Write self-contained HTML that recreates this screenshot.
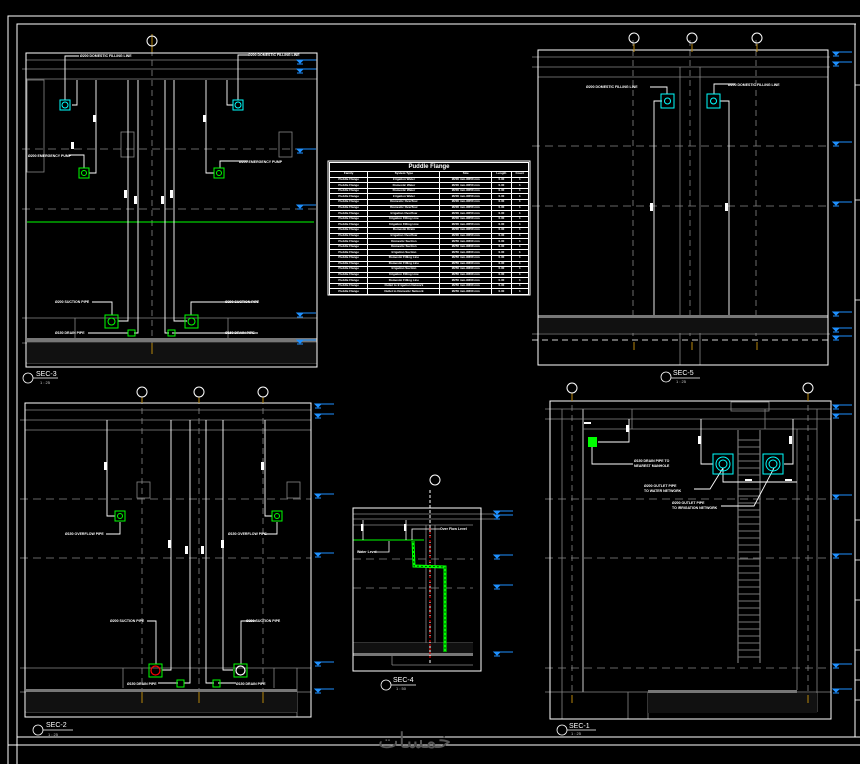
<!DOCTYPE html>
<html><head><meta charset="utf-8"><style>
html,body{margin:0;padding:0;background:#000;width:860px;height:764px;overflow:hidden;font-family:"Liberation Sans",sans-serif}
svg{position:absolute;left:0;top:0}
table{position:absolute;left:329px;top:162px;width:200px;border-collapse:collapse;color:#fff;font-size:3px;font-weight:bold;line-height:3.8px}
td{border:0.6px solid #fff;text-align:center;padding:0;height:4.6px;white-space:nowrap;overflow:hidden}
.t{font-size:6px;height:8px;line-height:8px}
</style></head><body>
<svg width="860" height="764" viewBox="0 0 860 764" font-family="Liberation Sans, sans-serif">
<defs>
<g id="m" stroke="#1e90ff" stroke-width="1" fill="#1e90ff"><line x1="0" y1="0" x2="16" y2="0"/><path d="M-3 0 L3 0 L0 3Z"/><line x1="-3" y1="4" x2="3" y2="4"/></g>
</defs>
<g fill="none" stroke="#fff" stroke-width="1">
<polyline points="8,764 8,16 860,16"/>
<polyline points="17,764 17,24 856,24"/>
<line x1="8" y1="745" x2="860" y2="745"/>
<line x1="17" y1="737" x2="860" y2="737"/>
<line x1="855" y1="24" x2="855" y2="737"/>
</g>
<g stroke="#fff" stroke-width="0.8" fill="none">
<line x1="855" y1="85" x2="860" y2="85"/><line x1="855" y1="200" x2="860" y2="200"/><line x1="855" y1="300" x2="860" y2="300"/><line x1="855" y1="520" x2="860" y2="520"/><line x1="855" y1="560" x2="860" y2="560"/><line x1="855" y1="600" x2="860" y2="600"/><line x1="855" y1="650" x2="860" y2="650"/><line x1="855" y1="680" x2="860" y2="680"/><line x1="855" y1="700" x2="860" y2="700"/>
</g>

<!-- SEC-3 -->
<g stroke="#888" stroke-width="0.8" fill="none">
<line x1="26" y1="60" x2="317" y2="60"/>
<line x1="22" y1="69" x2="317" y2="69"/>
<line x1="26" y1="79" x2="317" y2="79"/>
<line x1="22" y1="149" x2="317" y2="149" stroke-dasharray="8,5"/>
<line x1="22" y1="209" x2="317" y2="209" stroke-dasharray="8,5"/>
<line x1="22" y1="318" x2="317" y2="318"/>
<line x1="22" y1="343" x2="317" y2="343"/>
<line x1="26" y1="363" x2="317" y2="363"/>
<line x1="152" y1="40" x2="152" y2="355" stroke-dasharray="6,4"/>
<rect x="27" y="80" width="17" height="92"/>
<rect x="121" y="132" width="13" height="25"/><rect x="279" y="132" width="13" height="25"/>
<line x1="75" y1="318" x2="75" y2="338"/><line x1="228" y1="318" x2="228" y2="338"/>
</g>
<rect x="27" y="338" width="290" height="4" fill="#777"/>
<rect x="27" y="343" width="290" height="20" fill="#111"/>
<line x1="152" y1="34" x2="152" y2="52" stroke="#b8860b"/>
<line x1="152" y1="343" x2="152" y2="354" stroke="#b8860b"/>
<line x1="27" y1="222" x2="314" y2="222" stroke="#0f0" stroke-width="1"/>
<rect x="26" y="53" width="291" height="314" fill="none" stroke="#fff"/>
<g fill="none" stroke="#fff" stroke-width="0.9">
<polyline points="79,56 65,56 65,100"/><polyline points="77,80 77,105 72,105"/>
<polyline points="96,80 96,173 89,173"/><polyline points="128,80 128,321 118,321"/>
<polyline points="138,80 138,333 134,333"/><polyline points="165,80 165,333 169,333"/>
<polyline points="174,80 174,321 187,321"/><polyline points="206,80 206,173 214,173"/>
<polyline points="227,80 227,105 233,105"/><polyline points="248,55 238,55 238,100"/>
<polyline points="69,155 84,155 84,168"/><polyline points="248,161 220,161 220,168"/>
<polyline points="92,302 112,302 112,315"/><polyline points="258,302 191,302 191,315"/>
<polyline points="88,333 128,333"/><polyline points="172,333 258,333"/>
</g>
<g fill="#fff"><rect x="93" y="115" width="3" height="7"/><rect x="203" y="115" width="3" height="7"/><rect x="124" y="190" width="3" height="8"/><rect x="134" y="196" width="3" height="8"/><rect x="161" y="196" width="3" height="8"/><rect x="170" y="190" width="3" height="8"/><rect x="71" y="142" width="3" height="7"/></g>
<g fill="#fff" font-size="3.5" font-weight="bold">
<text x="80" y="57">Ø200 DOMESTIC FILLING LINE</text><text x="248" y="56">Ø200 DOMESTIC FILLING LINE</text>
<text x="28" y="157">Ø200 EMERGENCY PUMP</text><text x="239" y="163">Ø200 EMERGENCY PUMP</text>
<text x="55" y="303">Ø200 SUCTION PIPE</text><text x="225" y="303">Ø200 SUCTION PIPE</text>
<text x="55" y="334">Ø150 DRAIN PIPE</text><text x="225" y="334">Ø150 DRAIN PIPE</text>
</g>
<g fill="none" stroke="#0ff" stroke-width="1"><rect x="60" y="100" width="10" height="10"/><circle cx="65" cy="105" r="3"/><rect x="233" y="100" width="10" height="10"/><circle cx="238" cy="105" r="3"/></g>
<g fill="none" stroke="#0f0" stroke-width="1"><rect x="79" y="168" width="10" height="10"/><circle cx="84" cy="173" r="2.5"/><rect x="214" y="168" width="10" height="10"/><circle cx="219" cy="173" r="2.5"/>
<rect x="105" y="315" width="13" height="13"/><circle cx="111.5" cy="321.5" r="3.5"/><rect x="185" y="315" width="13" height="13"/><circle cx="191.5" cy="321.5" r="3.5"/>
<rect x="128" y="330" width="7" height="6"/><rect x="168" y="330" width="7" height="6"/></g>
<circle cx="152" cy="41" r="5" fill="none" stroke="#fff"/>

<rect x="328" y="161" width="202" height="134" fill="none" stroke="#fff"/>

<!-- SEC-5 -->
<g stroke="#888" stroke-width="0.8" fill="none">
<line x1="532" y1="57" x2="830" y2="57"/><line x1="532" y1="67" x2="830" y2="67"/><line x1="538" y1="77" x2="828" y2="77"/>
<line x1="532" y1="146" x2="830" y2="146" stroke-dasharray="8,5"/><line x1="532" y1="206" x2="830" y2="206" stroke-dasharray="8,5"/>
<line x1="633" y1="40" x2="633" y2="340" stroke-dasharray="6,4"/><line x1="690" y1="40" x2="690" y2="340" stroke-dasharray="6,4"/><line x1="756" y1="40" x2="756" y2="340" stroke-dasharray="6,4"/>
<line x1="680" y1="67" x2="680" y2="365"/><line x1="700" y1="67" x2="700" y2="365"/>
<line x1="532" y1="334" x2="830" y2="334"/>
<line x1="532" y1="340" x2="830" y2="340" stroke-dasharray="6,4" stroke-width="1.5"/>
</g>
<rect x="538" y="315" width="290" height="3" fill="#777"/>
<rect x="538" y="318" width="290" height="15" fill="#111"/>
<rect x="538" y="50" width="290" height="315" fill="none" stroke="#fff"/>
<g stroke="#b8860b"><line x1="634" y1="44" x2="634" y2="52"/><line x1="692" y1="44" x2="692" y2="52"/><line x1="757" y1="44" x2="757" y2="52"/><line x1="634" y1="342" x2="634" y2="350"/><line x1="692" y1="342" x2="692" y2="350"/><line x1="757" y1="342" x2="757" y2="350"/></g>
<g fill="none" stroke="#fff" stroke-width="0.9"><polyline points="650,87 667,87 667,94"/><polyline points="662,101 654,101 654,315"/><polyline points="714,94 714,84 735,84"/><polyline points="720,101 729,101 729,315"/></g>
<g fill="#fff"><rect x="650" y="203" width="3" height="8"/><rect x="725" y="203" width="3" height="8"/></g>
<g fill="#fff" font-size="3.5" font-weight="bold"><text x="586" y="88">Ø200 DOMESTIC FILLING LINE</text><text x="728" y="86">Ø200 DOMESTIC FILLING LINE</text></g>
<g fill="none" stroke="#0ff"><rect x="661" y="94" width="13" height="14"/><circle cx="667.5" cy="101" r="3"/><rect x="707" y="94" width="13" height="14"/><circle cx="713.5" cy="101" r="3"/></g>
<g fill="none" stroke="#fff"><circle cx="634" cy="38" r="5"/><circle cx="692" cy="38" r="5"/><circle cx="757" cy="38" r="5"/></g>

<!-- SEC-2 -->
<g stroke="#888" stroke-width="0.8" fill="none">
<line x1="25" y1="410" x2="311" y2="410"/><line x1="20" y1="420" x2="311" y2="420"/><line x1="25" y1="430" x2="311" y2="430"/>
<line x1="20" y1="499" x2="311" y2="499" stroke-dasharray="8,5"/><line x1="20" y1="558" x2="311" y2="558" stroke-dasharray="8,5"/>
<line x1="20" y1="668" x2="311" y2="668"/><line x1="20" y1="692" x2="311" y2="692"/><line x1="25" y1="712" x2="297" y2="712"/>
<line x1="142" y1="398" x2="142" y2="702" stroke-dasharray="6,4"/><line x1="199" y1="398" x2="199" y2="702" stroke-dasharray="6,4"/><line x1="263" y1="398" x2="263" y2="702" stroke-dasharray="6,4"/>
<rect x="137" y="482" width="13" height="16"/><rect x="287" y="482" width="13" height="16"/>
<line x1="123" y1="668" x2="123" y2="688"/><line x1="274" y1="668" x2="274" y2="688"/><line x1="297" y1="668" x2="297" y2="717"/>
</g>
<rect x="26" y="689" width="271" height="3" fill="#777"/>
<rect x="26" y="692" width="271" height="20" fill="#111"/>
<rect x="25" y="403" width="286" height="314" fill="none" stroke="#fff"/>
<g stroke="#b8860b"><line x1="142" y1="397" x2="142" y2="403"/><line x1="199" y1="397" x2="199" y2="403"/><line x1="263" y1="397" x2="263" y2="403"/><line x1="142" y1="692" x2="142" y2="703"/><line x1="199" y1="692" x2="199" y2="703"/><line x1="263" y1="692" x2="263" y2="703"/></g>
<g fill="none" stroke="#fff" stroke-width="0.9">
<polyline points="107,420 107,516 115,516"/><polyline points="120,522 120,534 106,534"/>
<polyline points="171,420 171,670 162,670"/><polyline points="190,420 190,683 184,683"/>
<polyline points="206,420 206,683 214,683"/><polyline points="223,420 223,670 233,670"/>
<polyline points="265,420 265,516 272,516"/><polyline points="277,522 277,534 264,534"/>
<polyline points="147,621 156,621 156,664"/><polyline points="256,621 241,621 241,664"/>
<polyline points="158,683 178,683"/><polyline points="218,683 236,683"/>
</g>
<g fill="#fff"><rect x="104" y="462" width="3" height="8"/><rect x="168" y="540" width="3" height="8"/><rect x="185" y="546" width="3" height="8"/><rect x="201" y="546" width="3" height="8"/><rect x="221" y="540" width="3" height="8"/><rect x="261" y="462" width="3" height="8"/></g>
<g fill="#fff" font-size="3.5" font-weight="bold">
<text x="65" y="535">Ø150 OVERFLOW PIPE</text><text x="228" y="535">Ø150 OVERFLOW PIPE</text>
<text x="110" y="622">Ø200 SUCTION PIPE</text><text x="246" y="622">Ø200 SUCTION PIPE</text>
<text x="127" y="685">Ø150 DRAIN PIPE</text><text x="236" y="685">Ø150 DRAIN PIPE</text>
</g>
<g fill="none" stroke="#0f0"><rect x="115" y="511" width="10" height="10"/><circle cx="120" cy="516" r="2.5"/><rect x="272" y="511" width="10" height="10"/><circle cx="277" cy="516" r="2.5"/>
<rect x="149" y="664" width="13" height="13"/><rect x="234" y="664" width="13" height="13"/>
<rect x="177" y="680" width="7" height="7"/><rect x="213" y="680" width="7" height="7"/></g>
<circle cx="155.5" cy="670.5" r="4.5" fill="none" stroke="#f00" stroke-width="1.2"/>
<circle cx="240.5" cy="670.5" r="4.5" fill="none" stroke="#fff" stroke-width="1.2"/>
<g fill="none" stroke="#fff"><circle cx="142" cy="392" r="5"/><circle cx="199" cy="392" r="5"/><circle cx="263" cy="392" r="5"/></g>

<!-- SEC-4 -->
<g stroke="#888" stroke-width="0.8" fill="none">
<line x1="353" y1="514" x2="495" y2="514"/><line x1="353" y1="519" x2="495" y2="519"/><line x1="353" y1="525" x2="473" y2="525"/>
<line x1="353" y1="559" x2="473" y2="559" stroke-dasharray="8,5"/><line x1="353" y1="588" x2="473" y2="588" stroke-dasharray="8,5"/>
<line x1="426" y1="525" x2="426" y2="643"/><line x1="435" y1="525" x2="435" y2="655"/>
<line x1="392" y1="643" x2="392" y2="665"/><line x1="353" y1="643" x2="473" y2="643"/><line x1="392" y1="665" x2="473" y2="665"/>
</g>
<rect x="353" y="643" width="120" height="12" fill="#111"/>
<rect x="353" y="653" width="120" height="3" fill="#777"/>
<line x1="353" y1="540" x2="424" y2="540" stroke="#0f0"/>
<line x1="430" y1="490" x2="430" y2="665" stroke="#fff" stroke-dasharray="3,2"/>
<line x1="430" y1="528" x2="430" y2="660" stroke="#f00" stroke-dasharray="2,2"/>
<polyline points="413,541 414,566 445,567 445,652" fill="none" stroke="#0f0" stroke-width="3"/>
<polyline points="413,541 414,566 445,567 445,652" fill="none" stroke="#000" stroke-width="0.7" stroke-dasharray="2,2"/>
<g fill="none" stroke="#fff" stroke-width="0.8"><polyline points="363,520 363,540"/><polyline points="406,520 406,540"/><polyline points="412,540 412,529 440,529"/><polyline points="375,552 389,552 389,541"/></g>
<g fill="#fff"><rect x="361" y="524" width="2.5" height="7"/><rect x="404" y="524" width="2.5" height="7"/></g>
<g fill="#fff" font-size="3.5" font-weight="bold"><text x="440" y="530">Over Flow Level</text><text x="357" y="553">Water Level</text></g>
<rect x="353" y="508" width="128" height="163" fill="none" stroke="#fff"/>
<circle cx="435" cy="480" r="5" fill="none" stroke="#fff"/>

<!-- SEC-1 -->
<g stroke="#888" stroke-width="0.8" fill="none">
<line x1="545" y1="409" x2="831" y2="409"/><line x1="545" y1="419" x2="831" y2="419"/>
<line x1="545" y1="499" x2="831" y2="499" stroke-dasharray="8,5"/><line x1="545" y1="558" x2="831" y2="558" stroke-dasharray="8,5"/>
<line x1="545" y1="668" x2="831" y2="668" stroke-dasharray="8,5"/><line x1="545" y1="692" x2="831" y2="692"/>
<line x1="562" y1="409" x2="562" y2="719"/><line x1="583" y1="409" x2="583" y2="692" stroke-width="1.5"/>
<line x1="797" y1="429" x2="797" y2="690"/><line x1="817" y1="409" x2="817" y2="712"/>
<line x1="583" y1="429" x2="817" y2="429"/>
<line x1="572" y1="395" x2="572" y2="702" stroke-dasharray="6,4"/><line x1="808" y1="395" x2="808" y2="702" stroke-dasharray="6,4"/>
<line x1="632" y1="409" x2="632" y2="429"/><line x1="765" y1="409" x2="765" y2="429"/>
<line x1="628" y1="692" x2="628" y2="719"/><line x1="648" y1="692" x2="648" y2="719"/>
<rect x="731" y="402" width="38" height="9"/>
</g>
<rect x="648" y="690" width="149" height="3" fill="#777"/>
<rect x="648" y="693" width="169" height="20" fill="#111"/>
<g stroke="#777" stroke-width="1.2" fill="none"><line x1="738" y1="430" x2="738" y2="663"/><line x1="760" y1="430" x2="760" y2="663"/></g>
<path d="M738 440H760M738 447H760M738 454H760M738 461H760M738 468H760M738 475H760M738 482H760M738 489H760M738 496H760M738 503H760M738 510H760M738 517H760M738 524H760M738 531H760M738 538H760M738 545H760M738 552H760M738 559H760M738 566H760M738 573H760M738 580H760M738 587H760M738 594H760M738 601H760M738 608H760M738 615H760M738 622H760M738 629H760M738 636H760M738 643H760M738 650H760M738 657H760" stroke="#777" stroke-width="1"/>
<rect x="550" y="401" width="281" height="318" fill="none" stroke="#fff"/>
<g stroke="#b8860b"><line x1="572" y1="393" x2="572" y2="401"/><line x1="808" y1="393" x2="808" y2="401"/><line x1="572" y1="695" x2="572" y2="703"/><line x1="808" y1="695" x2="808" y2="703"/></g>
<g fill="none" stroke="#fff" stroke-width="0.9">
<polyline points="598,442 629,442 629,419"/><polyline points="592,447 592,464 633,464"/>
<polyline points="701,419 701,464 713,464"/><polyline points="793,419 793,464 784,464"/>
<polyline points="723,468 723,482 797,482"/><polyline points="694,489 710,489 723,468"/><polyline points="721,506 754,506 774,468"/>
</g>
<g fill="#fff"><rect x="626" y="425" width="3" height="7"/><rect x="698" y="436" width="3" height="8"/><rect x="789" y="436" width="3" height="8"/><rect x="745" y="479" width="7" height="2"/><rect x="785" y="479" width="7" height="2"/><rect x="584" y="422" width="7" height="2"/></g>
<g fill="#fff" font-size="3.5" font-weight="bold">
<text x="634" y="462">Ø150 DRAIN PIPE TO</text><text x="634" y="467">NEAREST MANHOLE</text>
<text x="644" y="487">Ø200 OUTLET PIPE</text><text x="644" y="492">TO WATER NETWORK</text>
<text x="672" y="504">Ø200 OUTLET PIPE</text><text x="672" y="509">TO IRRIGATION NETWORK</text>
</g>
<rect x="588" y="437" width="9" height="10" fill="#0f0"/>
<g fill="none" stroke="#0ff" stroke-width="1"><rect x="713" y="454" width="20" height="20"/><circle cx="723" cy="464" r="7"/><circle cx="723" cy="464" r="4"/><rect x="763" y="454" width="20" height="20"/><circle cx="773" cy="464" r="7"/><circle cx="773" cy="464" r="4"/></g>
<g fill="none" stroke="#fff"><circle cx="572" cy="388" r="5"/><circle cx="808" cy="388" r="5"/></g>

<!-- level markers -->
<use href="#m" x="300" y="60"/><use href="#m" x="300" y="69"/><use href="#m" x="300" y="149"/><use href="#m" x="300" y="205"/><use href="#m" x="300" y="313"/><use href="#m" x="300" y="340"/>
<use href="#m" x="836" y="52"/><use href="#m" x="836" y="62"/><use href="#m" x="836" y="142"/><use href="#m" x="836" y="202"/><use href="#m" x="836" y="312"/><use href="#m" x="836" y="328"/><use href="#m" x="836" y="336"/>
<use href="#m" x="318" y="404"/><use href="#m" x="318" y="414"/><use href="#m" x="318" y="494"/><use href="#m" x="318" y="553"/><use href="#m" x="318" y="662"/><use href="#m" x="318" y="689"/>
<use href="#m" x="497" y="511"/><use href="#m" x="497" y="515"/><use href="#m" x="497" y="555"/><use href="#m" x="497" y="585"/><use href="#m" x="497" y="652"/>
<use href="#m" x="836" y="405"/><use href="#m" x="836" y="414"/><use href="#m" x="836" y="495"/><use href="#m" x="836" y="554"/><use href="#m" x="836" y="664"/><use href="#m" x="836" y="689"/>

<g fill="none" stroke="#fff" stroke-width="0.8"><circle cx="28" cy="378" r="5"/><line x1="33" y1="378" x2="58" y2="378"/>
<circle cx="666" cy="377" r="5"/><line x1="671" y1="378" x2="700" y2="378"/>
<circle cx="38" cy="730" r="5"/><line x1="43" y1="730" x2="73" y2="730"/>
<circle cx="386" cy="685" r="5"/><line x1="391" y1="685" x2="416" y2="685"/>
<circle cx="562" cy="730" r="5"/><line x1="567" y1="730" x2="596" y2="730"/></g>
<g fill="#fff" font-size="7"><text x="36" y="376">SEC-3</text><text x="673" y="375">SEC-5</text><text x="46" y="727">SEC-2</text><text x="393" y="682">SEC-4</text><text x="569" y="728">SEC-1</text></g>
<g fill="#ccc" font-size="4"><text x="40" y="384">1 : 25</text><text x="676" y="383">1 : 25</text><text x="48" y="736">1 : 25</text><text x="396" y="690">1 : 50</text><text x="571" y="735">1 : 25</text></g>
<text x="378" y="748" fill="#555" font-size="22" font-family="Noto Sans CJK SC, sans-serif">خمسات</text>
</svg>
<table>
<tr><td class="t" colspan="5">Puddle Flange</td></tr>
<tr><td>Family</td><td>System Type</td><td>Size</td><td>Length</td><td>Count</td></tr>
<tr><td>Puddle Flange</td><td>Irrigation Water</td><td>Ø200 mm-Ø250 mm</td><td>0.30</td><td>1</td></tr>
<tr><td>Puddle Flange</td><td>Domestic Water</td><td>Ø200 mm-Ø250 mm</td><td>0.30</td><td>1</td></tr>
<tr><td>Puddle Flange</td><td>Domestic Water</td><td>Ø200 mm-Ø250 mm</td><td>0.30</td><td>1</td></tr>
<tr><td>Puddle Flange</td><td>Irrigation Water</td><td>Ø200 mm-Ø250 mm</td><td>0.30</td><td>1</td></tr>
<tr><td>Puddle Flange</td><td>Domestic Overflow</td><td>Ø200 mm-Ø250 mm</td><td>0.30</td><td>1</td></tr>
<tr><td>Puddle Flange</td><td>Domestic Overflow</td><td>Ø200 mm-Ø250 mm</td><td>0.30</td><td>1</td></tr>
<tr><td>Puddle Flange</td><td>Irrigation Overflow</td><td>Ø200 mm-Ø250 mm</td><td>0.30</td><td>1</td></tr>
<tr><td>Puddle Flange</td><td>Irrigation Filling Line</td><td>Ø200 mm-Ø250 mm</td><td>0.30</td><td>1</td></tr>
<tr><td>Puddle Flange</td><td>Irrigation Filling Line</td><td>Ø200 mm-Ø250 mm</td><td>0.30</td><td>1</td></tr>
<tr><td>Puddle Flange</td><td>Domestic Drain</td><td>Ø200 mm-Ø250 mm</td><td>0.30</td><td>1</td></tr>
<tr><td>Puddle Flange</td><td>Irrigation Overflow</td><td>Ø200 mm-Ø250 mm</td><td>0.30</td><td>1</td></tr>
<tr><td>Puddle Flange</td><td>Domestic Suction</td><td>Ø250 mm-Ø300 mm</td><td>0.30</td><td>1</td></tr>
<tr><td>Puddle Flange</td><td>Domestic Suction</td><td>Ø250 mm-Ø300 mm</td><td>0.30</td><td>1</td></tr>
<tr><td>Puddle Flange</td><td>Irrigation Suction</td><td>Ø250 mm-Ø300 mm</td><td>0.30</td><td>1</td></tr>
<tr><td>Puddle Flange</td><td>Domestic Filling Line</td><td>Ø250 mm-Ø300 mm</td><td>0.30</td><td>1</td></tr>
<tr><td>Puddle Flange</td><td>Domestic Filling Line</td><td>Ø250 mm-Ø300 mm</td><td>0.30</td><td>1</td></tr>
<tr><td>Puddle Flange</td><td>Irrigation Suction</td><td>Ø250 mm-Ø300 mm</td><td>0.30</td><td>1</td></tr>
<tr><td>Puddle Flange</td><td>Irrigation Filling Line</td><td>Ø250 mm-Ø300 mm</td><td>0.30</td><td>1</td></tr>
<tr><td>Puddle Flange</td><td>Domestic Filling Line</td><td>Ø250 mm-Ø300 mm</td><td>0.30</td><td>1</td></tr>
<tr><td>Puddle Flange</td><td>Outlet to Irrigation Network</td><td>Ø250 mm-Ø300 mm</td><td>0.30</td><td>1</td></tr>
<tr><td>Puddle Flange</td><td>Outlet to Domestic Network</td><td>Ø250 mm-Ø300 mm</td><td>0.30</td><td>1</td></tr>
</table>
</body></html>
